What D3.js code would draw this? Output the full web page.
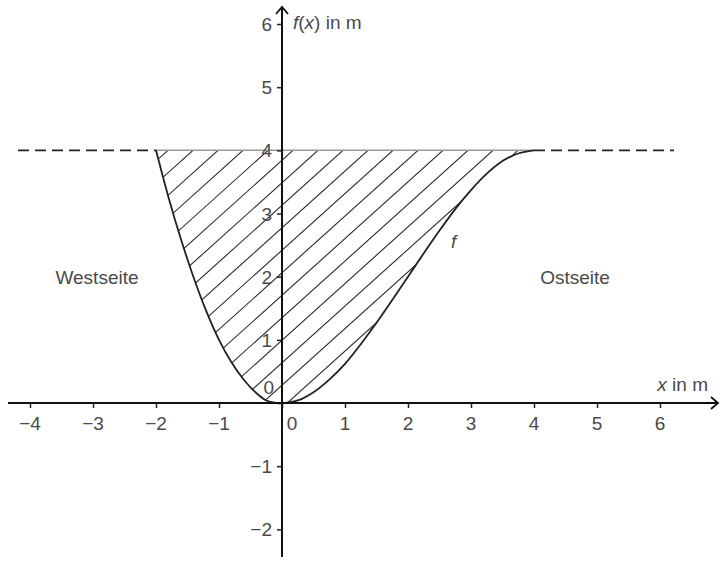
<!DOCTYPE html>
<html>
  <head>
    <meta charset="utf-8">
    <script src="https://d3js.org/d3.v7.min.js"></script>
    <style>
      body { margin: 0; background: #fff; }
      text { font-family: "Liberation Sans", Arial, sans-serif; fill: #4a4a4a; }
    </style>
  </head>
  <body>
    <script>

      // values
      var xTicks = [-4, -3, -2, -1, 0, 1, 2, 3, 4, 5, 6]
      var yTicks = [-2, -1, 0, 1, 2, 3, 4, 5, 6]

      // left edge (Westseite)
      var westX = [-2, -1.8, -1.6, -1.4, -1.2, -1, -0.8, -0.6, -0.4, -0.25, -0.1]
      var westY = [4, 3.25, 2.58, 1.98, 1.45, 1.0, 0.64, 0.36, 0.15, 0.04, 0]

      // right edge, graph of f (Ostseite)
      var fX = [0.05, 0.25, 0.5, 0.75, 1, 1.25, 1.5, 1.75, 2, 2.25, 2.5, 2.75, 3, 3.25, 3.5, 3.75, 4]
      var fY = [0, 0.04, 0.17, 0.37, 0.62, 0.93, 1.27, 1.63, 2.0, 2.37, 2.73, 3.07, 3.37, 3.63, 3.83, 3.95, 4]

      var waterLevel = 4

      var w = 720
      var h = 561

      var svg = d3.select("body")
        .append("svg")
        .attr("width", w)
        .attr("height", h)

      var x = d3.scaleLinear().domain([-4, 6]).range([30, 660])
      var y = d3.scaleLinear().domain([0, 6]).range([403, 24])

      var west = westX.map(function(d, i) { return [d, westY[i]] })
      var east = fX.map(function(d, i) { return [d, fY[i]] })

      var line = d3.line()
        .x(function(d) { return x(d[0]) })
        .y(function(d) { return y(d[1]) })
        .curve(d3.curveMonotoneX)

      // clip region for the hatching
      var outline = west.concat(east)
      svg.append("clipPath")
        .attr("id", "hatchClip")
        .append("path")
        .attr("d", line(outline) + "Z")

      var hatch = svg.append("g").attr("clip-path", "url(#hatchClip)")
      var slope = 0.9
      var surfY = y(waterLevel)
      for (var k = -12; k < 14; k++) {
        var x0 = 343 + 25 * k
        hatch.append("line")
          .attr("x1", x0)
          .attr("y1", surfY)
          .attr("x2", x0 - 300 / slope)
          .attr("y2", surfY + 300)
          .attr("stroke", "#2a2a2a")
          .attr("stroke-width", 1.1)
      }

      // water surface
      svg.append("line")
        .attr("x1", x(westX[0])).attr("x2", x(4))
        .attr("y1", surfY).attr("y2", surfY)
        .attr("stroke", "#999").attr("stroke-width", 1.5)

      // dashed ground level
      svg.append("line")
        .attr("x1", 18).attr("x2", x(westX[0]))
        .attr("y1", surfY).attr("y2", surfY)
        .attr("stroke", "#222").attr("stroke-width", 1.8)
        .attr("stroke-dasharray", "11,6")
      svg.append("line")
        .attr("x1", x(4)).attr("x2", 674)
        .attr("y1", surfY).attr("y2", surfY)
        .attr("stroke", "#222").attr("stroke-width", 1.8)
        .attr("stroke-dasharray", "11,6")

      // curves
      svg.append("path")
        .attr("d", line(west))
        .attr("fill", "none").attr("stroke", "#222").attr("stroke-width", 1.8)
      svg.append("path")
        .attr("d", line(east))
        .attr("fill", "none").attr("stroke", "#222").attr("stroke-width", 1.8)

      // axes
      var xAxis = d3.axisBottom(x).tickValues(xTicks).tickSize(5).tickFormat("")
      var gx = svg.append("g").attr("transform", "translate(0," + y(0) + ")").call(xAxis)
      gx.select(".domain").remove()
      gx.selectAll(".tick line").attr("stroke", "#222").attr("stroke-width", 1.5)

      var yAxis = d3.axisLeft(y).tickValues(yTicks).tickSize(5).tickFormat("")
      var gy = svg.append("g").attr("transform", "translate(" + x(0) + ",0)").call(yAxis)
      gy.select(".domain").remove()
      gy.selectAll(".tick line").attr("stroke", "#222").attr("stroke-width", 1.5)

      svg.append("line")
        .attr("x1", 8).attr("x2", 718)
        .attr("y1", y(0)).attr("y2", y(0))
        .attr("stroke", "#111").attr("stroke-width", 2)
      svg.append("line")
        .attr("x1", x(0)).attr("x2", x(0))
        .attr("y1", 557).attr("y2", 7)
        .attr("stroke", "#111").attr("stroke-width", 2)

      // arrow heads
      svg.append("path")
        .attr("d", "M" + 711 + "," + (y(0) - 6) + "L718," + y(0) + "L711," + (y(0) + 6))
        .attr("fill", "none").attr("stroke", "#111").attr("stroke-width", 1.8)
      svg.append("path")
        .attr("d", "M" + (x(0) - 6) + ",14L" + x(0) + ",7L" + (x(0) + 6) + ",14")
        .attr("fill", "none").attr("stroke", "#111").attr("stroke-width", 1.8)

      // tick labels
      svg.selectAll(".xl")
        .data(xTicks)
        .enter()
        .append("text")
        .attr("x", function(d) { return d == 0 ? x(0) + 10 : x(d) })
        .attr("y", y(0) + 27)
        .attr("text-anchor", "middle")
        .attr("font-size", 19)
        .text(function(d) { return d < 0 ? "\u2212" + (-d) : d })

      svg.selectAll(".yl")
        .data(yTicks)
        .enter()
        .append("text")
        .attr("x", function(d) { return d == 0 ? x(0) - 8 : x(0) - 10 })
        .attr("y", function(d) { return d == 0 ? y(0) - 9 : y(d) + 7 })
        .attr("text-anchor", "end")
        .attr("font-size", 19)
        .text(function(d) { return d < 0 ? "\u2212" + (-d) : d })

      // axis titles
      var yt = svg.append("text").attr("x", 293).attr("y", 29).attr("font-size", 19)
      yt.append("tspan").attr("font-style", "italic").text("f")
      yt.append("tspan").text("(")
      yt.append("tspan").attr("font-style", "italic").text("x")
      yt.append("tspan").text(") in m")

      var xt = svg.append("text").attr("x", 708).attr("y", 391).attr("text-anchor", "end").attr("font-size", 19)
      xt.append("tspan").attr("font-style", "italic").text("x")
      xt.append("tspan").text(" in m")

      svg.append("text").attr("x", 451).attr("y", 248)
        .attr("font-style", "italic").attr("font-size", 19).text("f")

      svg.append("text").attr("x", 97).attr("y", 284)
        .attr("text-anchor", "middle").attr("font-size", 19).text("Westseite")
      svg.append("text").attr("x", 575).attr("y", 284)
        .attr("text-anchor", "middle").attr("font-size", 19).text("Ostseite")

    </script>
  </body>
</html>
